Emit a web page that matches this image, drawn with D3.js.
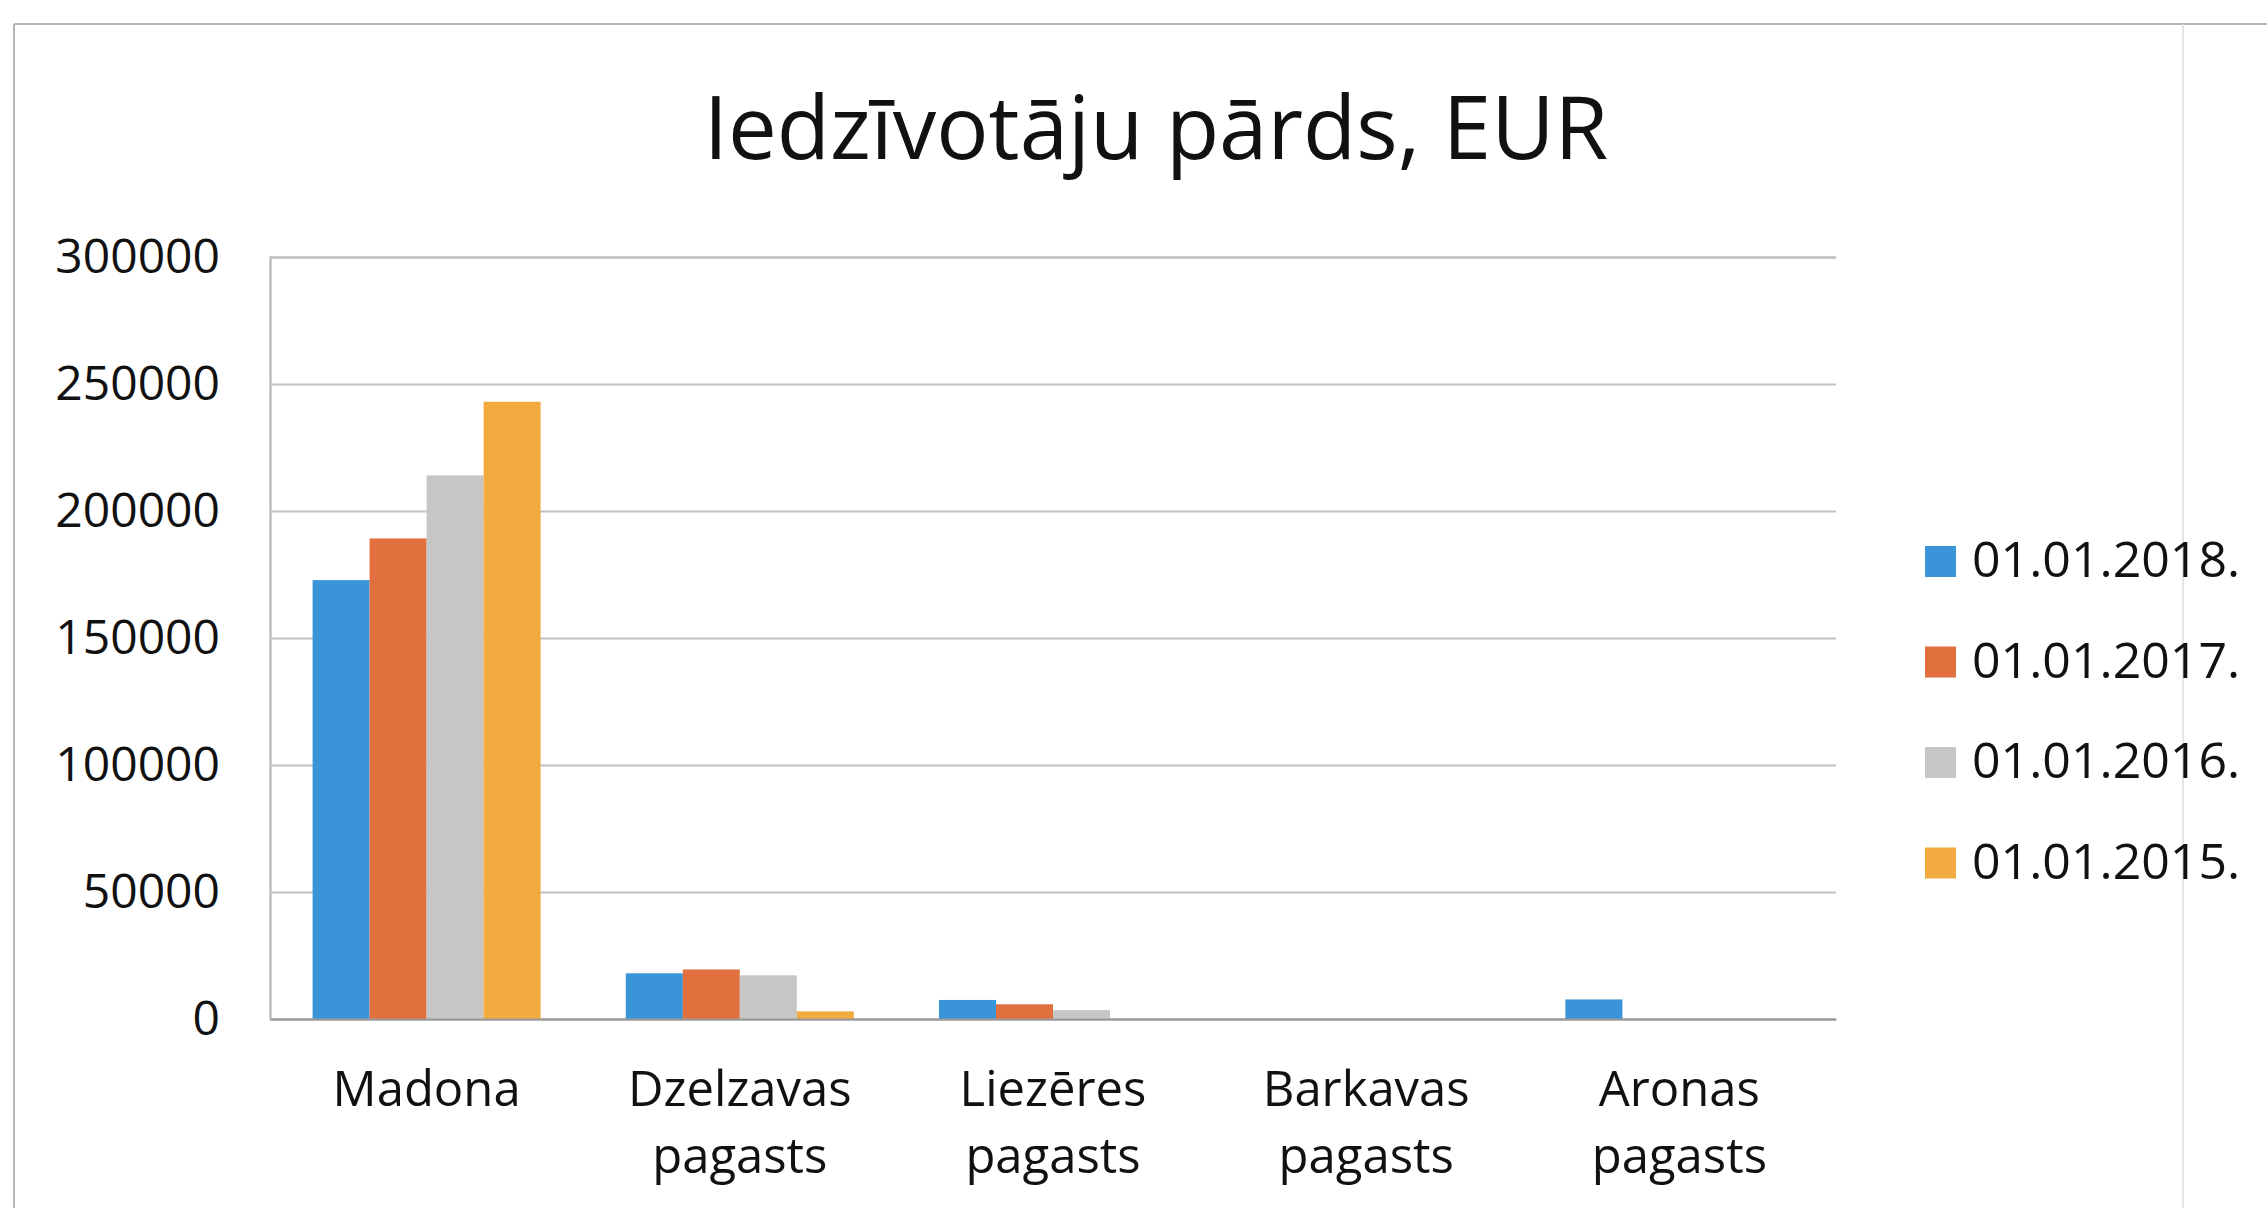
<!doctype html>
<html lang="lv">
<head>
  <meta charset="utf-8">
  <script src="https://cdn.jsdelivr.net/npm/d3@7/dist/d3.min.js"></script>
  <style>
    body { margin: 0; background: #fff; }
    text { font-family: "Open Sans", sans-serif; fill: #111; }
  </style>
</head>
<body>
<div id="chart"></div>
<script>
  // Data
  var categories = ["Madona", "Dzelzavas pagasts", "Liezēres pagasts", "Barkavas pagasts", "Aronas pagasts"];
  var seriesNames = ["01.01.2018.", "01.01.2017.", "01.01.2016.", "01.01.2015."];
  var v2018 = [172800, 18000, 7500, 0, 7700];
  var v2017 = [189200, 19500, 5800, 0, 0];
  var v2016 = [214000, 17200, 3500, 0, 0];
  var v2015 = [243000, 3000, 0, 0, 0];
  var yTicks = [0, 50000, 100000, 150000, 200000, 250000, 300000];
  var colors = ["#3a95d8", "#e2703f", "#c6c6c6", "#f1aa3e"];

  var values = [v2018, v2017, v2016, v2015];
  var width = 2267, height = 1208;
  var plotLeft = 270, plotRight = 1836, plotTop = 257, plotBottom = 1019;

  var svg = d3.select("#chart").append("svg")
    .attr("width", width)
    .attr("height", height);

  // chart frame (scan edges)
  svg.append("line").attr("x1", 14).attr("x2", width).attr("y1", 24).attr("y2", 24)
    .attr("stroke", "#b5b5b5").attr("stroke-width", 2);
  svg.append("line").attr("x1", 14).attr("x2", 14).attr("y1", 24).attr("y2", height)
    .attr("stroke", "#b5b5b5").attr("stroke-width", 2);
  svg.append("line").attr("x1", 2183).attr("x2", 2183).attr("y1", 24).attr("y2", height)
    .attr("stroke", "#e4e4e4").attr("stroke-width", 2);

  // title
  svg.append("text")
    .attr("x", 1156).attr("y", 159)
    .attr("text-anchor", "middle")
    .style("font-size", "87px")
    .text("Iedzīvotāju pārds, EUR");

  var x0 = d3.scaleBand().domain(categories).range([plotLeft, plotRight])
    .paddingInner(0.272).paddingOuter(0.136);
  var x1 = d3.scaleBand().domain(seriesNames).range([0, x0.bandwidth()]);
  var y = d3.scaleLinear().domain([0, 300000]).range([plotBottom, plotTop]);

  // y axis with gridlines
  var yAxis = svg.append("g")
    .attr("transform", "translate(" + plotLeft + ",0)")
    .call(d3.axisLeft(y).tickValues(yTicks).tickSize(-(plotRight - plotLeft)).tickPadding(50).tickFormat(d3.format("d")));
  yAxis.select(".domain").attr("stroke", "#b0b0b0").attr("stroke-width", 2);
  yAxis.selectAll(".tick line").attr("stroke", "#c2c2c2").attr("stroke-width", 2);
  yAxis.selectAll(".tick text")
    .style("font-size", "48px")
    .style("font-family", "'Open Sans', sans-serif")
    .attr("fill", "#111");

  // bars
  var groups = svg.append("g").selectAll("g")
    .data(categories)
    .enter().append("g")
    .attr("transform", function(d) { return "translate(" + x0(d) + ",0)"; });

  groups.selectAll("rect")
    .data(function(d, i) {
      return seriesNames.map(function(s, j) { return {s: s, j: j, v: values[j][i]}; });
    })
    .enter().append("rect")
    .attr("x", function(d) { return x1(d.s); })
    .attr("width", x1.bandwidth())
    .attr("y", function(d) { return y(d.v); })
    .attr("height", function(d) { return plotBottom - y(d.v); })
    .attr("fill", function(d) { return colors[d.j]; });

  // x axis
  var xAxis = svg.append("g")
    .attr("transform", "translate(0," + plotBottom + ")")
    .call(d3.axisBottom(x0).tickSize(0).tickPadding(0));
  xAxis.select(".domain").attr("stroke", "#9a9a9a").attr("stroke-width", 2);
  xAxis.selectAll(".tick text").each(function(d) {
    var t = d3.select(this);
    var words = d.split(" ");
    t.text(null).attr("y", 0).attr("dy", null)
      .style("font-size", "49px")
      .style("font-family", "'Open Sans', sans-serif")
      .attr("fill", "#111");
    words.forEach(function(w, k) {
      t.append("tspan").attr("x", 0).attr("y", 87 + k * 67).text(w);
    });
  });

  // legend
  var legend = svg.append("g").selectAll("g")
    .data(seriesNames)
    .enter().append("g")
    .attr("transform", function(d, i) { return "translate(1925," + (577 + i * 100.5) + ")"; });
  legend.append("rect")
    .attr("x", 0).attr("y", -31)
    .attr("width", 31).attr("height", 31)
    .attr("fill", function(d, i) { return colors[i]; });
  legend.append("text")
    .attr("x", 47).attr("y", 0)
    .style("font-size", "50px")
    .text(function(d) { return d; });
</script>
</body>
</html>
